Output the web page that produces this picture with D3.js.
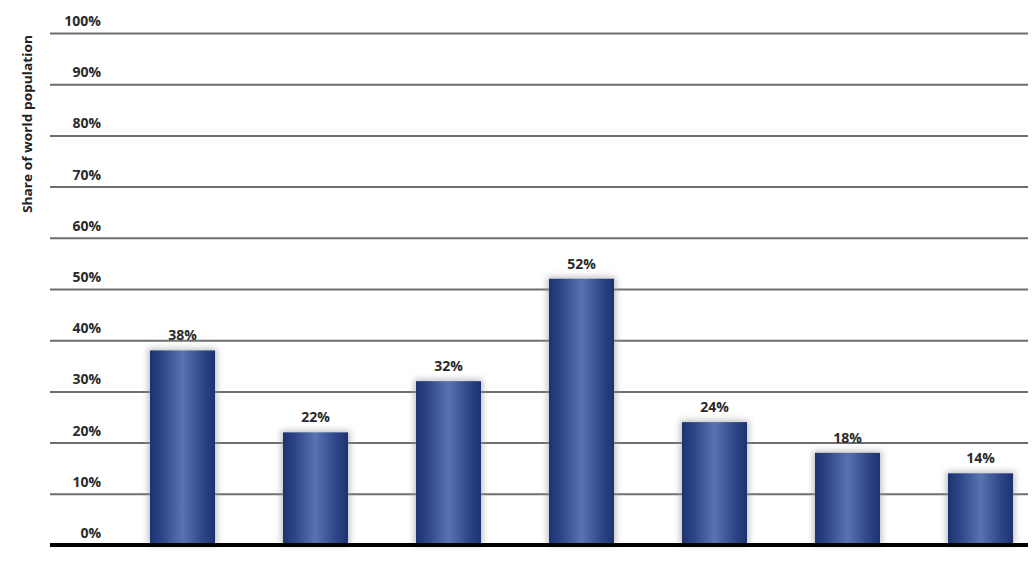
<!DOCTYPE html>
<html>
<head>
<meta charset="utf-8">
<script src="https://cdn.jsdelivr.net/npm/d3@7"></script>
<style>
  html, body { margin: 0; padding: 0; background: #fff; }
  svg { display: block; }
  text { font-family: "Open Sans", "Liberation Sans", Arial, sans-serif; }
</style>
</head>
<body>
<svg id="chart" width="1035" height="579"></svg>
<script>
const categories = ["c1", "c2", "c3", "c4", "c5", "c6", "c7"];
const values = [38, 22, 32, 52, 24, 18, 14];
const tickValues = [0, 10, 20, 30, 40, 50, 60, 70, 80, 90, 100];
const yTitle = "Share of world population";

const svg = d3.select("#chart");

const y = d3.scaleLinear().domain([0, 100]).range([545, 33]);
const x = d3.scaleBand().domain(categories).range([116, 1047])
  .paddingInner(0.511).paddingOuter(0.2555);

const defs = svg.append("defs");
const grad = defs.append("linearGradient").attr("id", "barGrad")
  .attr("x1", "0%").attr("x2", "100%").attr("y1", "0%").attr("y2", "0%");
grad.append("stop").attr("offset", "0%").attr("stop-color", "#1d3270");
grad.append("stop").attr("offset", "18%").attr("stop-color", "#2d4587");
grad.append("stop").attr("offset", "50%").attr("stop-color", "#5873b2");
grad.append("stop").attr("offset", "82%").attr("stop-color", "#2d4587");
grad.append("stop").attr("offset", "100%").attr("stop-color", "#1d3270");

const blur = defs.append("filter").attr("id", "glow")
  .attr("x", "-30%").attr("y", "-30%").attr("width", "160%").attr("height", "160%");
blur.append("feGaussianBlur").attr("stdDeviation", 3);

// gridlines
const yAxis = d3.axisLeft(y).tickValues(tickValues.filter(d => d > 0))
  .tickSize(-(1028 - 50)).tickFormat("");
svg.append("g").attr("transform", "translate(50,0)").call(yAxis)
  .call(g => g.select(".domain").remove())
  .call(g => g.selectAll(".tick line").attr("stroke", "#6e6e6e").attr("stroke-width", 2));

// tick labels
svg.append("g").selectAll("text").data(tickValues).join("text")
  .attr("x", 101).attr("y", d => y(d) - 7)
  .attr("text-anchor", "end")
  .attr("font-size", 14).attr("font-weight", "bold").attr("fill", "#2a2a2a")
  .text(d => d + "%");

// bar shadows
svg.append("g").selectAll("rect").data(values).join("rect")
  .attr("x", (d, i) => x(categories[i]) - 2)
  .attr("y", d => y(d) - 2)
  .attr("width", x.bandwidth() + 4)
  .attr("height", d => y(0) - y(d) + 2)
  .attr("fill", "#9a9a9a").attr("opacity", 0.6)
  .attr("filter", "url(#glow)");

// bars
svg.append("g").selectAll("rect").data(values).join("rect")
  .attr("x", (d, i) => x(categories[i]))
  .attr("y", d => y(d))
  .attr("width", x.bandwidth())
  .attr("height", d => y(0) - y(d))
  .attr("fill", "url(#barGrad)");

// value labels
svg.append("g").selectAll("text").data(values).join("text")
  .attr("x", (d, i) => x(categories[i]) + x.bandwidth() / 2)
  .attr("y", d => y(d) - 10)
  .attr("text-anchor", "middle")
  .attr("font-size", 14).attr("font-weight", "bold").attr("fill", "#2a2a2a")
  .text(d => d + "%");

// baseline
svg.append("line").attr("x1", 50).attr("x2", 1028)
  .attr("y1", y(0)).attr("y2", y(0))
  .attr("stroke", "#000").attr("stroke-width", 4);

// y title
svg.append("text")
  .attr("transform", "translate(32,124) rotate(-90)")
  .attr("text-anchor", "middle")
  .attr("font-size", 13).attr("font-weight", "bold").attr("fill", "#222")
  .attr("textLength", 178).attr("lengthAdjust", "spacingAndGlyphs")
  .text(yTitle);
</script>
</body>
</html>
